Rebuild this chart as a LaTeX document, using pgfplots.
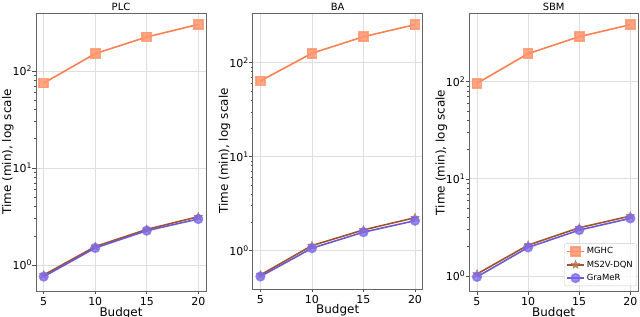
\documentclass[border=0pt]{standalone}
\usepackage{pgfplots}
\pgfplotsset{compat=1.18}
\usepackage{fontspec}
\setmainfont{DejaVu Sans}
\definecolor{cMG}{RGB}{255,127,80}
\definecolor{cMGm}{RGB}{255,150,110}
\definecolor{cMS}{RGB}{160,82,45}
\definecolor{cGR}{RGB}{106,90,205}
\definecolor{cGRm}{RGB}{123,104,238}
\pgfdeclareplotmark{fstar}{%
 \pgfpathmoveto{\pgfpointpolar{90}{\pgfplotmarksize}}%
 \pgfpathlineto{\pgfpointpolar{126}{0.45\pgfplotmarksize}}%
 \pgfpathlineto{\pgfpointpolar{162}{\pgfplotmarksize}}%
 \pgfpathlineto{\pgfpointpolar{198}{0.45\pgfplotmarksize}}%
 \pgfpathlineto{\pgfpointpolar{234}{\pgfplotmarksize}}%
 \pgfpathlineto{\pgfpointpolar{270}{0.45\pgfplotmarksize}}%
 \pgfpathlineto{\pgfpointpolar{306}{\pgfplotmarksize}}%
 \pgfpathlineto{\pgfpointpolar{342}{0.45\pgfplotmarksize}}%
 \pgfpathlineto{\pgfpointpolar{18}{\pgfplotmarksize}}%
 \pgfpathlineto{\pgfpointpolar{54}{0.45\pgfplotmarksize}}%
 \pgfpathclose\pgfusepathqfillstroke}
\pgfplotsset{
  panel/.style={
    /pgfplots/scale only axis, /pgfplots/width=170bp,
    /pgfplots/xmin=4.25, /pgfplots/xmax=20.75, /pgfplots/xtick={5,10,15,20}, /pgfplots/xticklabels={5,10,15,20},
    /pgfplots/ytick={1,10,100}, /pgfplots/yticklabels={10\textsuperscript{0},10\textsuperscript{1},10\textsuperscript{2}},
    /pgfplots/grid=major, /pgfplots/major grid style={gray!25, line width=0.8pt},
    /pgfplots/axis line style={gray!80!black, line width=0.8pt},
    /pgfplots/tick align=outside, /pgfplots/tick style={gray!60!black, line width=0.6pt},
    /pgfplots/major tick length=3.5bp, /pgfplots/minor tick length=2bp,
    /pgfplots/xtick pos=bottom, /pgfplots/ytick pos=left,
    /pgfplots/ticklabel style={font=\fontsize{11}{12}\selectfont},
    /pgfplots/xticklabel style={yshift=1bp},
    /pgfplots/yticklabel style={xshift=3bp},
    /pgfplots/label style={font=\fontsize{12}{13}\selectfont},
    /pgfplots/title style={font=\fontsize{10}{11}\selectfont, at={(axis description cs:0.5,1)}, anchor=base, yshift=-3bp},
    /pgfplots/xlabel={Budget}, /pgfplots/ylabel={Time (min), log scale},
    /pgfplots/xlabel style={at={(axis description cs:0.5,-0.09)}, anchor=base},
    /pgfplots/ylabel style={at={(axis description cs:-0.166,0.5)}, anchor=center},
    /pgfplots/legend cell align=left,
  },
  mg/.style={color=cMG, line width=1.6pt, mark=square*, mark size=4.5bp, mark options={fill=cMGm, draw=cMGm, fill opacity=0.85, draw opacity=0.85}},
  ms/.style={color=cMS, line width=1.6pt, mark=fstar, mark size=4.5bp, mark options={fill=cMS!80, draw=cMS!80, line width=0.3pt, fill opacity=0.8}},
  gr/.style={color=cGR, line width=1.6pt, mark=*, mark size=4.3bp, mark options={fill=cGRm, draw=cGRm, fill opacity=0.75, draw opacity=0.75}},
}
\begin{document}
\begin{tikzpicture}
\path[use as bounding box] (0,0) rectangle (640bp,317bp);
\begin{axis}[ymode=log, panel, at={(36bp,26bp)}, anchor=south west, height=278bp, ymin=0.54, ymax=396, title={PLC}]
\addplot[mg] coordinates {(5,75) (10,151) (15,224) (20,302)};
\addplot[ms] coordinates {(5,0.79) (10,1.55) (15,2.33) (20,3.15)};
\addplot[gr] coordinates {(5,0.76) (10,1.50) (15,2.26) (20,2.98)};
\end{axis}
\begin{axis}[ymode=log, panel, at={(252.7bp,28bp)}, anchor=south west, height=276bp, ymin=0.39, ymax=338, title={BA}]
\addplot[mg] coordinates {(5,64) (10,126) (15,189) (20,254)};
\addplot[ms] coordinates {(5,0.55) (10,1.13) (15,1.66) (20,2.24)};
\addplot[gr] coordinates {(5,0.53) (10,1.06) (15,1.57) (20,2.08)};
\end{axis}
\begin{axis}[ymode=log, panel, at={(469.3bp,25.3bp)}, anchor=south west, width=168.7bp, height=278.7bp, ymin=0.69, ymax=508, title={SBM},
  legend style={at={(0.994,0.02)}, anchor=south east, font=\fontsize{8.5}{10}\selectfont, draw=gray!40, rounded corners=2bp, fill=white, fill opacity=0.8, text opacity=1, inner sep=2bp, row sep=1.5bp}]
\addplot[mg] coordinates {(5,96) (10,194) (15,290) (20,385)};
\addlegendentry{MGHC}
\addplot[ms] coordinates {(5,1.05) (10,2.08) (15,3.14) (20,4.14)};
\addlegendentry{MS2V-DQN}
\addplot[gr] coordinates {(5,0.98) (10,1.97) (15,2.97) (20,3.92)};
\addlegendentry{GraMeR}
\end{axis}
\end{tikzpicture}
\end{document}
